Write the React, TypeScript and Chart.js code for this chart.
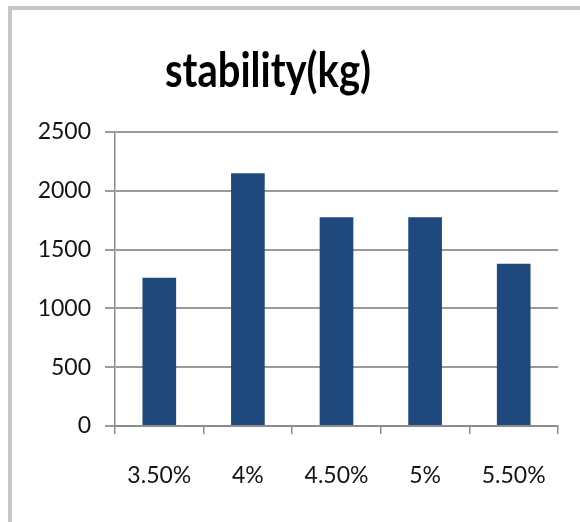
import React, { useEffect, useRef } from "react";
import { Chart, registerables } from "chart.js";

Chart.register(...registerables);

const categories = ["3.50%", "4%", "4.50%", "5%", "5.50%"];
const stability = [1260, 2150, 1775, 1775, 1380];
const yTicks = [0, 500, 1000, 1500, 2000, 2500];
const titleText = "stability(kg)";

const FONT = "Lato, 'Open Sans', sans-serif";

// Draws the chart heading centred over the panel
const titlePlugin = {
  id: "panelTitle",
  afterDraw(chart: Chart) {
    const ctx = chart.ctx;
    ctx.save();
    ctx.fillStyle = "#000";
    ctx.font = `bold 40px ${FONT}`;
    ctx.textAlign = "center";
    ctx.textBaseline = "alphabetic";
    ctx.translate(268, 87);
    ctx.scale(1, 1.2);
    ctx.fillText(titleText, 0, 0);
    ctx.restore();
  },
};

export default function App() {
  const ref = useRef<HTMLCanvasElement>(null);

  useEffect(() => {
    if (!ref.current) return;
    const chart = new Chart(ref.current, {
      type: "bar",
      data: {
        labels: categories,
        datasets: [
          {
            data: stability,
            backgroundColor: "#1f497d",
            borderWidth: 0,
            categoryPercentage: 1,
            barPercentage: 0.38,
          },
        ],
      },
      options: {
        animation: false,
        responsive: false,
        maintainAspectRatio: false,
        layout: { padding: { left: 0, top: 132, right: 22, bottom: 0 } },
        plugins: {
          legend: { display: false },
          title: { display: false },
          tooltip: { enabled: false },
        },
        scales: {
          x: {
            offset: true,
            grid: {
              offset: true,
              drawOnChartArea: false,
              color: "#8c8c8c",
              tickLength: 8,
              lineWidth: 1.5,
            },
            border: { color: "#8c8c8c", width: 2 },
            ticks: {
              color: "#141414",
              font: { family: FONT, size: 23 },
              padding: 28,
              maxRotation: 0,
            },
            afterFit(scale: any) {
              scale.height = 96;
            },
          },
          y: {
            min: 0,
            max: 2500,
            afterBuildTicks(scale: any) {
              scale.ticks = yTicks.map((v) => ({ value: v }));
            },
            grid: {
              color: "#9a9a9a",
              lineWidth: 2,
              tickLength: 10,
            },
            border: { color: "#8c8c8c", width: 1.5 },
            ticks: {
              color: "#141414",
              font: { family: FONT, size: 23 },
              padding: 14,
              callback: (v: any) => String(v),
            },
            afterFit(scale: any) {
              scale.width = 115;
            },
          },
        },
      },
      plugins: [titlePlugin],
    });
    return () => chart.destroy();
  }, []);

  return (
    <div
      style={{
        position: "absolute",
        left: 0,
        top: 0,
        width: 580,
        height: 522,
        overflow: "hidden",
        background: "#fff",
      }}
    >
      <div
        style={{
          position: "absolute",
          left: 8,
          top: 6,
          width: 620,
          height: 513,
          borderTop: "4px solid #c6c6c6",
          borderLeft: "4px solid #c6c6c6",
          borderBottom: "1px solid #dcdcdc",
        }}
      />
      <canvas
        ref={ref}
        width={580}
        height={522}
        style={{ position: "absolute", left: 0, top: 0, width: 580, height: 522 }}
      />
    </div>
  );
}
